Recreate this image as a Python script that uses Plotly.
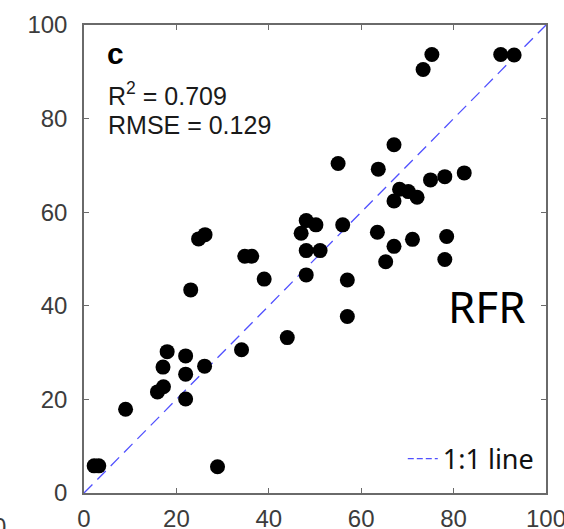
import plotly.graph_objects as go

measured = [2.2, 3.2, 9.0, 15.9, 17.2, 17.1, 18.0, 22.0, 22.0, 22.0, 26.1, 28.9, 23.1,
            24.8, 26.2, 34.1, 34.8, 36.3, 39.0, 44.0, 47.0, 48.1, 50.2, 48.1, 51.1,
            48.1, 55.0, 56.0, 57.0, 57.0, 63.7, 63.5, 65.3, 67.1, 67.1, 67.1, 68.3,
            70.2, 72.1, 71.1, 75.0, 78.1, 82.3, 78.5, 78.1, 73.4, 75.3, 90.2, 93.1]
predicted = [5.8, 5.8, 17.9, 21.6, 22.7, 26.9, 30.2, 29.3, 25.4, 20.1, 27.1, 5.6, 43.4,
             54.3, 55.2, 30.6, 50.6, 50.6, 45.7, 33.2, 55.5, 58.2, 57.3, 51.8, 51.8,
             46.6, 70.4, 57.3, 45.5, 37.7, 69.2, 55.7, 49.4, 74.4, 62.4, 52.7, 64.9,
             64.4, 63.2, 54.2, 66.9, 67.6, 68.4, 54.8, 49.9, 90.5, 93.7, 93.7, 93.6]

line_x = [0, 100]
line_y = [0, 100]
tick_vals = [0, 20, 40, 60, 80, 100]
tick_text = ["0", "20", "40", "60", "80", "100"]

panel_label = "c"
r2_text = "R<sup>2</sup> = 0.709"
rmse_text = "RMSE = 0.129"
model_text = "RFR"
line_name = "1:1 line"

fig = go.Figure()
fig.add_trace(go.Scatter(x=line_x, y=line_y, mode="lines", showlegend=False,
                         line=dict(color="#5050ff", width=1.3, dash="12px,7px"),
                         hoverinfo="skip"))
fig.add_trace(go.Scatter(x=measured, y=predicted, mode="markers", showlegend=False,
                         marker=dict(color="black", size=15, line=dict(width=0))))
# legend-only proxy for the 1:1 line
fig.add_trace(go.Scatter(x=[None], y=[None], mode="lines", name=line_name,
                         line=dict(color="#5050ff", width=1.2, dash="6px,3px")))

axis_common = dict(range=[0, 100], tickvals=tick_vals, ticktext=tick_text,
                   showgrid=False, zeroline=False, showline=True, linecolor="#6a6a6a",
                   linewidth=1.5, mirror="ticks", ticks="inside", ticklen=5,
                   tickcolor="#6a6a6a", tickwidth=1, automargin=False,
                   ticklabeloverflow="allow",
                   tickfont=dict(family="Liberation Sans, Arial", size=24, color="#3c3c3c"))

fig.update_layout(
    width=564, height=529,
    margin=dict(l=84, r=18, t=25, b=36),
    paper_bgcolor="white", plot_bgcolor="white",
    xaxis=dict(**axis_common, ticklabelstandoff=3),
    yaxis=dict(**axis_common, ticklabelstandoff=10),
    legend=dict(x=0.69, y=0.02, xanchor="left", yanchor="bottom",
                bgcolor="rgba(0,0,0,0)", borderwidth=0,
                font=dict(family="Noto Sans", size=27, color="#111111")),
    annotations=[
        dict(text="<b>" + panel_label + "</b>", xref="paper", yref="paper",
             x=0.046, y=0.978, xanchor="left", yanchor="top", showarrow=False,
             font=dict(family="Liberation Sans, Arial", size=30, color="black")),
        dict(text=r2_text, xref="paper", yref="paper",
             x=0.048, y=0.89, xanchor="left", yanchor="top", showarrow=False,
             font=dict(family="Liberation Sans, Arial", size=25, color="#1a1a1a")),
        dict(text=rmse_text, xref="paper", yref="paper",
             x=0.048, y=0.82, xanchor="left", yanchor="top", showarrow=False,
             font=dict(family="Liberation Sans, Arial", size=25, color="#1a1a1a")),
        dict(text=model_text, xref="paper", yref="paper",
             x=0.96, y=0.40, xanchor="right", yanchor="middle", showarrow=False,
             font=dict(family="Noto Sans", size=44, color="black")),
        dict(text="0", xref="paper", yref="paper",
             x=-0.183, y=-0.072, xanchor="center", yanchor="middle", showarrow=False,
             font=dict(family="Liberation Sans, Arial", size=24, color="#3c3c3c")),
    ],
)

fig.write_html("out.html")
